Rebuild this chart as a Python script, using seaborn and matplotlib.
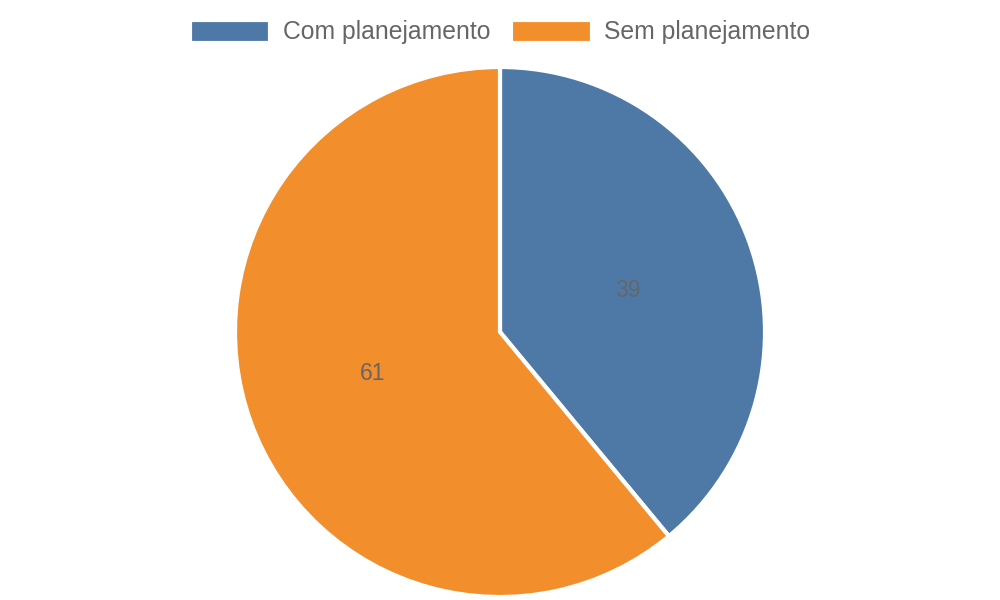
import matplotlib.pyplot as plt
import seaborn as sns

# Data
categories = ['Com planejamento', 'Sem planejamento']
values = [39, 61]
colors = ['#4e79a7', '#f28e2b']

sns.set_theme(style='white')
plt.rcParams['font.family'] = ['Liberation Sans', 'DejaVu Sans']

fig = plt.figure(figsize=(10, 6), dpi=100)
ax = fig.add_axes([235 / 1000, 3 / 600, 530 / 1000, 530 / 600])

wedges, texts = ax.pie(values, colors=colors, startangle=90, counterclock=False,
                       labels=[str(v) for v in values], labeldistance=0.46,
                       wedgeprops=dict(edgecolor='white', linewidth=3),
                       textprops=dict(color='#666666', fontsize=16.5))
ax.set_xlim(-1, 1)
ax.set_ylim(-1, 1)
ax.set_aspect('equal')
ax.axis('off')

fig.legend(wedges, categories, loc='center', bbox_to_anchor=(0.5, 1 - 32 / 600),
           ncol=2, frameon=False, fontsize=17.85, labelcolor='#666666',
           handlelength=3.25, handleheight=1.05, handletextpad=0.5,
           columnspacing=0.86, borderpad=0)

fig.savefig('out.png', dpi=100)
